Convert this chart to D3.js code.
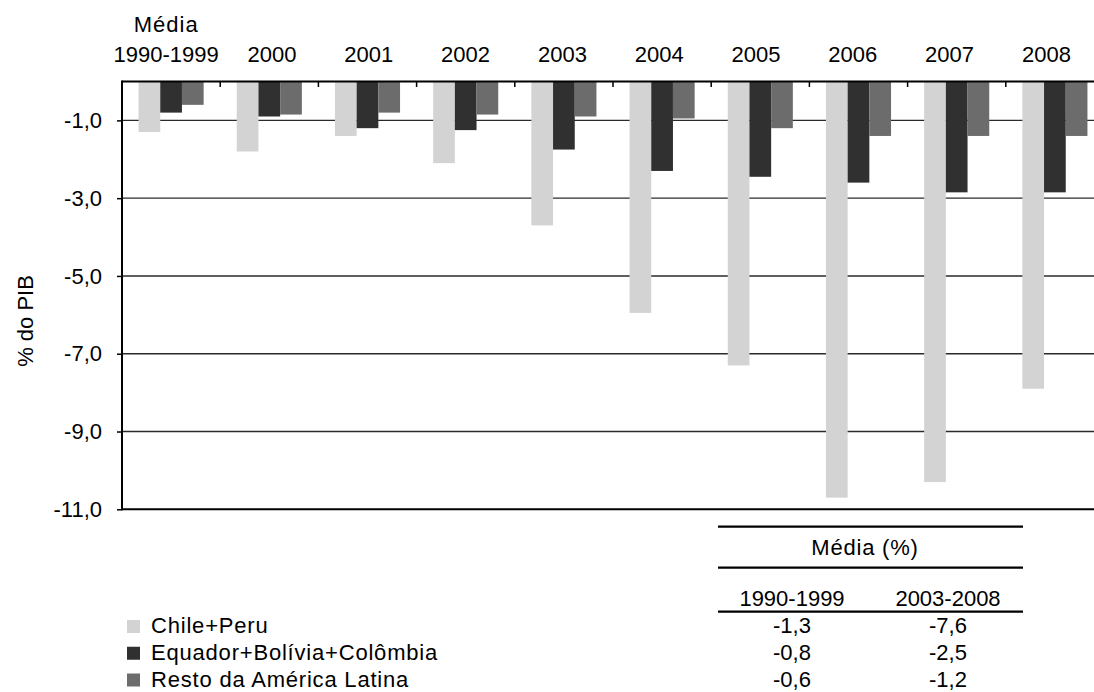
<!DOCTYPE html>
<html>
<head>
<meta charset="utf-8">
<script src="https://cdn.jsdelivr.net/npm/d3@7"></script>
<style>
  html, body { margin: 0; padding: 0; background: #fff; }
  svg { display: block; font-family: "Liberation Sans", Arial, sans-serif; }
</style>
</head>
<body>
<svg id="chart" width="1094" height="692"></svg>
<script>
// ---- data ----
const categories = ["1990-1999", "2000", "2001", "2002", "2003", "2004", "2005", "2006", "2007", "2008"];
const categoryLabels = [["Média", "1990-1999"], ["2000"], ["2001"], ["2002"], ["2003"], ["2004"], ["2005"], ["2006"], ["2007"], ["2008"]];
const seriesNames = ["Chile+Peru", "Equador+Bolívia+Colômbia", "Resto da América Latina"];
const chilePeru = [-1.3, -1.8, -1.4, -2.1, -3.7, -5.95, -7.3, -10.7, -10.3, -7.9];
const equadorBoliviaColombia = [-0.8, -0.9, -1.2, -1.25, -1.75, -2.3, -2.45, -2.6, -2.85, -2.85];
const restoAmericaLatina = [-0.6, -0.85, -0.8, -0.85, -0.9, -0.95, -1.2, -1.4, -1.4, -1.4];
const yTicks = [-1, -3, -5, -7, -9, -11];
const yTitle = "% do PIB";
const tableTitle = "Média (%)";
const tableColumns = ["1990-1999", "2003-2008"];
const avg1990_1999 = [-1.3, -0.8, -0.6];
const avg2003_2008 = [-7.6, -2.5, -1.2];

const seriesValues = [chilePeru, equadorBoliviaColombia, restoAmericaLatina];
const colors = ["#d3d3d3", "#303030", "#6c6c6c"];

const locale = d3.formatLocale({ decimal: ",", thousands: ".", grouping: [3], currency: ["", ""], minus: "-" });
const fmt = locale.format(".1f");

const svg = d3.select("#chart");
const FS = 22;
const LS = 0.8; // letter spacing for word labels

// ---- scales ----
const x = d3.scaleBand().domain(categories).range([122, 1104]).paddingInner(0).paddingOuter(0);
const xs = d3.scaleBand().domain(seriesNames).range([0, x.bandwidth()]).paddingInner(0).paddingOuter(0.763);
const y = d3.scaleLinear().domain([0, -11]).range([81.5, 509.3]);
const xLabel = d3.scaleBand().domain(categories).range([126.8, 1094.8]);

// ---- gridlines ----
svg.append("g").selectAll("line").data(yTicks.slice(0, -1)).join("line")
  .attr("x1", 122).attr("x2", 1104)
  .attr("y1", d => y(d)).attr("y2", d => y(d))
  .attr("stroke", "#2a2a2a").attr("stroke-width", 1.4);

// ---- bars ----
const rows = categories.map((c, i) => ({ c, vals: seriesNames.map((s, k) => ({ s, k, v: seriesValues[k][i] })) }));
svg.append("g").selectAll("g").data(rows).join("g")
  .attr("transform", d => `translate(${x(d.c)},0)`)
  .selectAll("rect").data(d => d.vals).join("rect")
  .attr("x", d => xs(d.s))
  .attr("width", xs.bandwidth())
  .attr("y", y(0))
  .attr("height", d => y(d.v) - y(0))
  .attr("fill", d => colors[d.k]);

// ---- axes ----
svg.append("line").attr("x1", 122).attr("x2", 1104)
  .attr("y1", y(-11)).attr("y2", y(-11)).attr("stroke", "#000").attr("stroke-width", 2);

svg.append("line").attr("x1", 122).attr("x2", 1104)
  .attr("y1", y(0)).attr("y2", y(0)).attr("stroke", "#000").attr("stroke-width", 2);
svg.append("g").selectAll("line").data(categories.slice(1)).join("line")
  .attr("x1", d => x(d)).attr("x2", d => x(d))
  .attr("y1", y(0)).attr("y2", y(0) + 5.5)
  .attr("stroke", "#000").attr("stroke-width", 1.5);

const yAxis = d3.axisLeft(y).tickValues(yTicks).tickSize(5).tickPadding(15).tickFormat(d => fmt(d));
const gy = svg.append("g").attr("transform", "translate(122,0)").call(yAxis);
gy.select(".domain").remove();
gy.selectAll(".tick line").attr("stroke", "#000").attr("stroke-width", 1.5);
gy.selectAll(".tick text").attr("font-size", FS).attr("fill", "#000")
  .attr("font-family", "'Liberation Sans', Arial, sans-serif");
svg.append("line").attr("x1", 122).attr("x2", 122)
  .attr("y1", y(0) - 1).attr("y2", y(-11) + 1).attr("stroke", "#000").attr("stroke-width", 2);

// category labels
svg.append("g").selectAll("text").data(categories).join("text")
  .attr("text-anchor", "middle")
  .attr("font-size", FS).attr("fill", "#000")
  .each(function (d, i) {
    const lines = categoryLabels[i];
    const t = d3.select(this);
    const cx = xLabel(d) + xLabel.bandwidth() / 2 - (i === 0 ? 9 : 0);
    lines.forEach((ln, j) => {
      t.append("tspan").attr("x", cx)
        .attr("y", 62 - (lines.length - 1 - j) * 30)
        .attr("letter-spacing", /[a-z]/i.test(ln) ? LS + 0.2 : 0)
        .text(ln);
    });
  });

// y title
svg.append("text").attr("transform", "translate(33,321) rotate(-90)")
  .attr("text-anchor", "middle").attr("font-size", FS).attr("fill", "#000").text(yTitle);

// ---- legend ----
const rowY = d3.scalePoint().domain(seriesNames).range([633, 686.5]);
const lg = svg.append("g").selectAll("g").data(seriesNames).join("g")
  .attr("transform", d => `translate(0,${rowY(d)})`);
lg.append("rect").attr("x", 127).attr("y", -13).attr("width", 13).attr("height", 13)
  .attr("fill", (d, i) => colors[i]);
lg.append("text").attr("x", 151).attr("y", 0).attr("font-size", FS).attr("fill", "#000")
  .attr("letter-spacing", LS).text(d => d);

// ---- table ----
const tx = d3.scaleBand().domain(tableColumns).range([714, 1026]);
[526.7, 567.7, 611.7].forEach(yy => {
  svg.append("line").attr("x1", 718).attr("x2", 1023).attr("y1", yy).attr("y2", yy)
    .attr("stroke", "#000").attr("stroke-width", 2.2);
});
svg.append("text").attr("x", 865).attr("y", 555).attr("text-anchor", "middle")
  .attr("font-size", FS).attr("fill", "#000").attr("letter-spacing", LS).text(tableTitle);
svg.append("g").selectAll("text").data(tableColumns).join("text")
  .attr("x", d => tx(d) + tx.bandwidth() / 2).attr("y", 605.5)
  .attr("text-anchor", "middle").attr("font-size", FS).attr("fill", "#000").text(d => d);
const tableCols = [avg1990_1999, avg2003_2008];
tableColumns.forEach((col, ci) => {
  svg.append("g").selectAll("text").data(seriesNames).join("text")
    .attr("x", tx(col) + tx.bandwidth() / 2).attr("y", d => rowY(d))
    .attr("text-anchor", "middle").attr("font-size", FS).attr("fill", "#000")
    .text((d, i) => fmt(tableCols[ci][i]));
});
</script>
</body>
</html>
